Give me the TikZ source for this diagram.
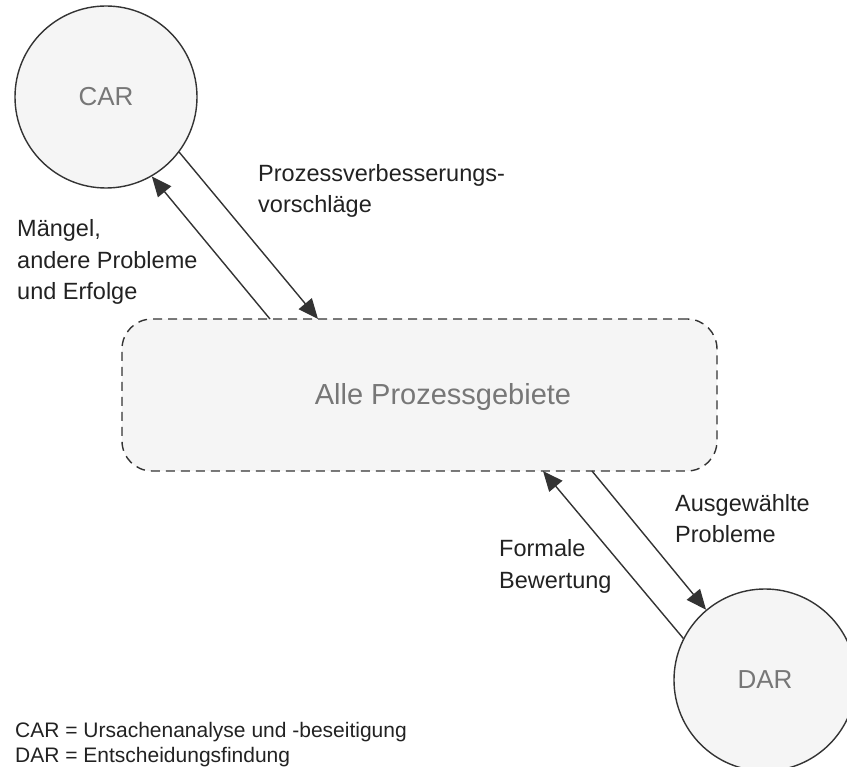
\documentclass[tikz,border=0pt]{standalone}
\usepackage{fontspec}
\setmainfont{Liberation Sans}
\usetikzlibrary{arrows.meta}
\definecolor{linegray}{HTML}{333333}
\definecolor{fillgray}{HTML}{F5F5F5}
\definecolor{namegray}{HTML}{777777}
\definecolor{labelink}{HTML}{222222}
\tikzset{
  area/.style={circle, draw=linegray, fill=fillgray, line width=1.4pt,
    minimum size=182pt, inner sep=0pt, text=namegray,
    font=\fontsize{26}{30}\selectfont},
  groupbox/.style={rectangle, draw=linegray, fill=fillgray, line width=1.4pt,
    dash pattern=on 9pt off 6pt, rounded corners=30pt,
    minimum width=595pt, minimum height=152pt, inner sep=0pt},
  grouptext/.style={anchor=base, inner sep=0pt, text=namegray,
    font=\fontsize{29}{34}\selectfont},
  flow/.style={draw=linegray, line width=1.4pt,
    -{Triangle[length=20pt, width=17pt]}},
  % multi-line labels: the given point is the baseline of the last line
  lbl/.style={anchor=base west, align=left, inner sep=0pt, text=labelink,
    font=\fontsize{23.5}{31.5}\selectfont},
  legend/.style={anchor=base west, align=left, inner sep=0pt, text=labelink,
    font=\fontsize{21}{25}\selectfont}
}
\begin{document}
\begin{tikzpicture}[x=1pt, y=-1pt]
  \useasboundingbox (0,0) rectangle (847,767);
  \clip (0,0) rectangle (847,767);

  % process areas
  \node[area] (car) at (106,97) {CAR};
  \node[area] (dar) at (765,680) {DAR};
  \node[groupbox] (all) at (419.5,395) {};
  \node[grouptext] (alltext) at (443,405) {Alle Prozessgebiete};

  % attachment points on the dashed box
  \coordinate (c1) at (270,319);
  \coordinate (c2) at (318,319);
  \coordinate (d1) at (543,471);
  \coordinate (d2) at (592,471);

  % flows between CAR / DAR and the process areas
  \draw[flow] (c1) -- (car.-60);
  \draw[flow] (car.-37) -- (c2);
  \draw[flow] (dar.153) -- (d1);
  \draw[flow] (d2) -- (dar.130);

  % flow labels
  \node[lbl] (lprop) at (258,213) {Prozessverbesserungs-\\vorschläge};
  \node[lbl] (lmang) at (17,300) {Mängel,\\andere Probleme\\und Erfolge};
  \node[lbl] (lsel)  at (675,543) {Ausgewählte\\Probleme};
  \node[lbl] (lform) at (499,588) {Formale\\Bewertung};

  % legend
  \node[legend] (leg) at (15,762) {CAR = Ursachenanalyse und -beseitigung\\DAR = Entscheidungsfindung};
\end{tikzpicture}
\end{document}
